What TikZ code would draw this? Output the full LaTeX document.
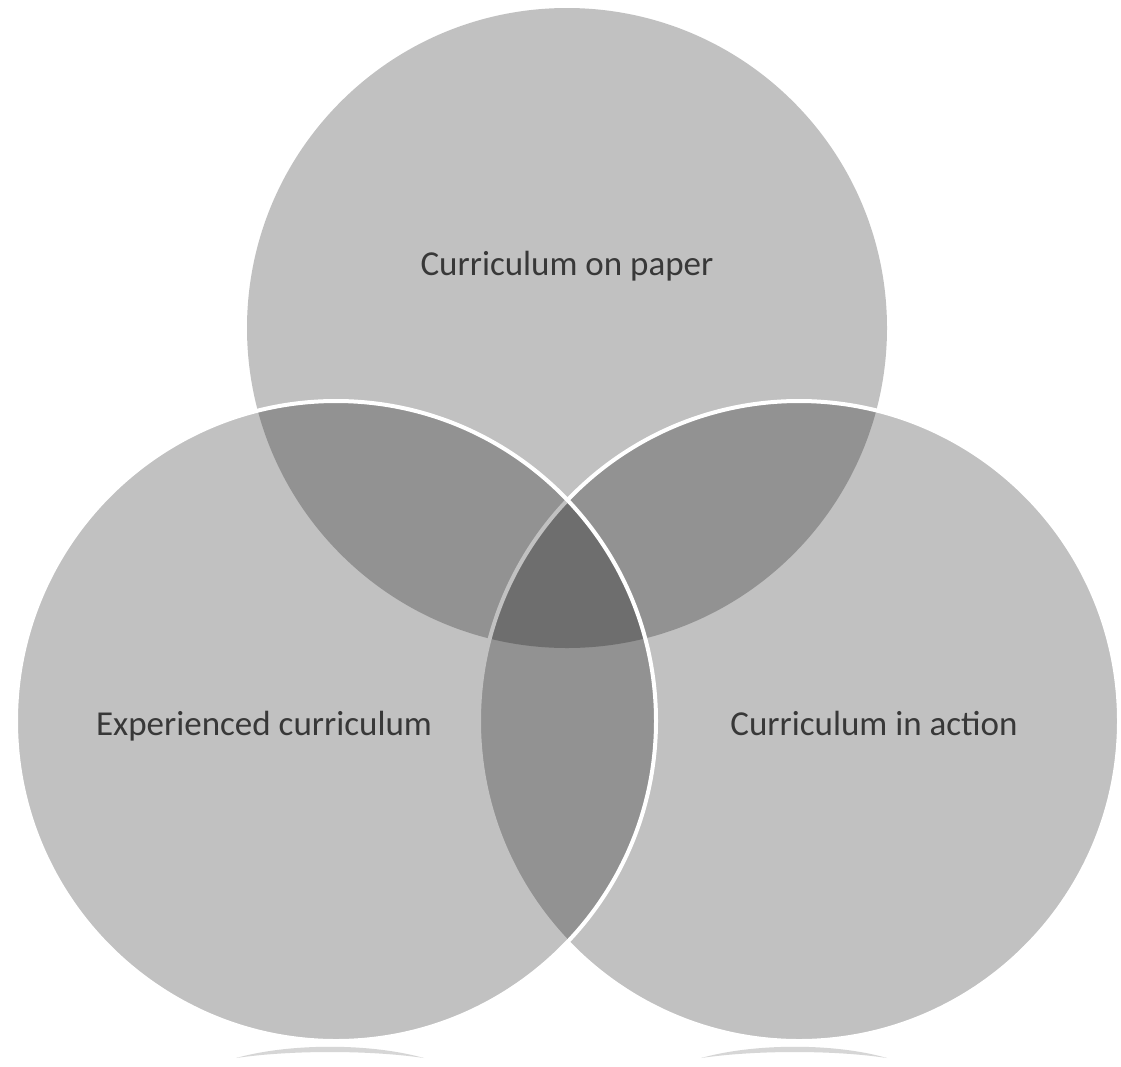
\documentclass[tikz,border=0pt]{standalone}
\usepackage{fontspec}
\setmainfont{Carlito}
\begin{document}
\begin{tikzpicture}[x=1pt,y=-1pt,
  set/.style={circle, inner sep=0pt, minimum size=640pt, fill=black, fill opacity=0.245},
  rim/.style={draw=white, draw opacity=1, line width=4pt},
  setlabel/.style={anchor=base, text=black!78, font=\fontsize{35}{42}\selectfont, inner sep=0pt},
  glint/.style={fill=black!16, draw=none}]
  % page
  \fill[white] (0,0) rectangle (1121,1066);
  \useasboundingbox (0,0) rectangle (1121,1066);
  % the three sets, drawn back to front
  \node[set] (paper)  at (567,328) {};
  \node[set, rim] (action) at (799,721) {};
  \node[set, rim] (experienced) at (336,721) {};
  % faint reflections below the lower circles
  \fill[glint] (236,1058) .. controls (290,1043) and (370,1043) .. (424,1058)
                         .. controls (370,1050) and (290,1050) .. (236,1058) -- cycle;
  \fill[glint] (701,1058) .. controls (755,1043) and (835,1043) .. (887,1058)
                         .. controls (835,1050) and (755,1050) .. (701,1058) -- cycle;
  % labels
  \node[setlabel] (lpaper) at (567,275) {Curriculum on paper};
  \node[setlabel] (lexp)   at (264,735) {Experienced curriculum};
  \node[setlabel] (lact)   at (874,735) {Curriculum in action};
\end{tikzpicture}
\end{document}
